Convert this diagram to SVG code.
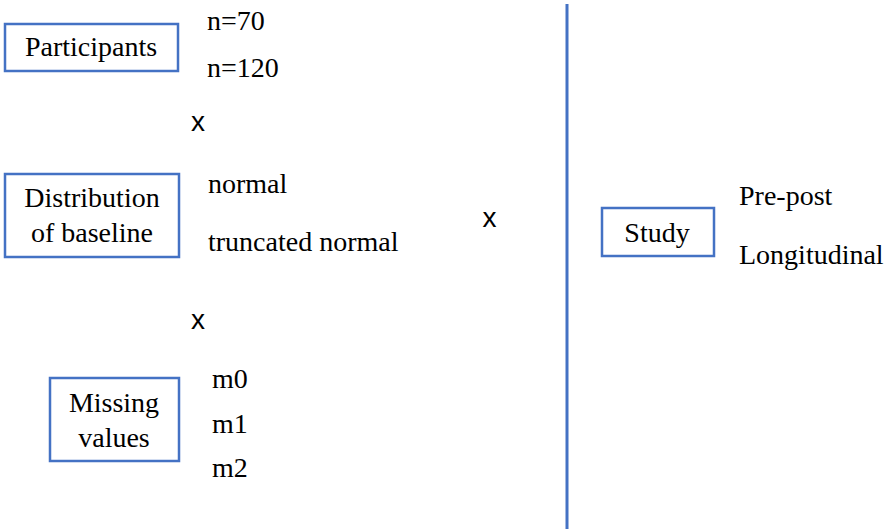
<svg xmlns="http://www.w3.org/2000/svg" width="887" height="530" viewBox="0 0 887 530">
<style>
.box{fill:#fff;stroke:#4472C4;stroke-width:2.5}
.m{text-anchor:middle}
</style>
<rect width="887" height="530" fill="#fff"/>
<g id="connectors">
<path d="M567 4V529" stroke="#4472C4" stroke-width="3" fill="none"/>
</g>
<g id="participants">
<rect class="box" x="5" y="24" width="173" height="47"/>
<text class="m" style="font-family:'Times New Roman';font-size:28px" x="91" y="56">Participants</text>
</g>
<g id="participants-values">
<text style="font-family:'Times New Roman';font-size:28px" x="207" y="30">n=70</text>
<text style="font-family:'Times New Roman';font-size:28px" x="207" y="77">n=120</text>
</g>
<g id="distribution">
<rect class="box" x="5" y="174" width="174" height="83"/>
<text class="m" style="font-family:'Times New Roman';font-size:28px" x="92" y="207">Distribution</text>
<text class="m" style="font-family:'Times New Roman';font-size:28px" x="92" y="242">of baseline</text>
</g>
<g id="distribution-values">
<text style="font-family:'Times New Roman';font-size:28px" x="208" y="193">normal</text>
<text style="font-family:'Times New Roman';font-size:28px" x="208" y="251">truncated normal</text>
</g>
<g id="missing">
<rect class="box" x="50" y="378" width="129" height="83"/>
<text class="m" style="font-family:'Times New Roman';font-size:28px" x="114" y="412">Missing</text>
<text class="m" style="font-family:'Times New Roman';font-size:28px" x="114" y="447">values</text>
</g>
<g id="missing-values">
<text style="font-family:'Times New Roman';font-size:28px" x="212" y="388">m0</text>
<text style="font-family:'Times New Roman';font-size:28px" x="212" y="433">m1</text>
<text style="font-family:'Times New Roman';font-size:28px" x="212" y="477">m2</text>
</g>
<g id="study">
<rect class="box" x="602" y="208" width="112" height="48"/>
<text class="m" style="font-family:'Times New Roman';font-size:28px" x="657" y="242">Study</text>
</g>
<g id="study-values">
<text style="font-family:'Times New Roman';font-size:28px" x="739" y="205">Pre-post</text>
<text style="font-family:'Times New Roman';font-size:28px" x="739" y="264">Longitudinal</text>
</g>
<g id="times1"><text class="m" style="font-family:Arial;font-size:28px" x="198" y="131">x</text></g>
<g id="times-center"><text class="m" style="font-family:Arial;font-size:28px" x="489.5" y="227">x</text></g>
<g id="times2"><text class="m" style="font-family:Arial;font-size:28px" x="198" y="329">x</text></g>
</svg>
